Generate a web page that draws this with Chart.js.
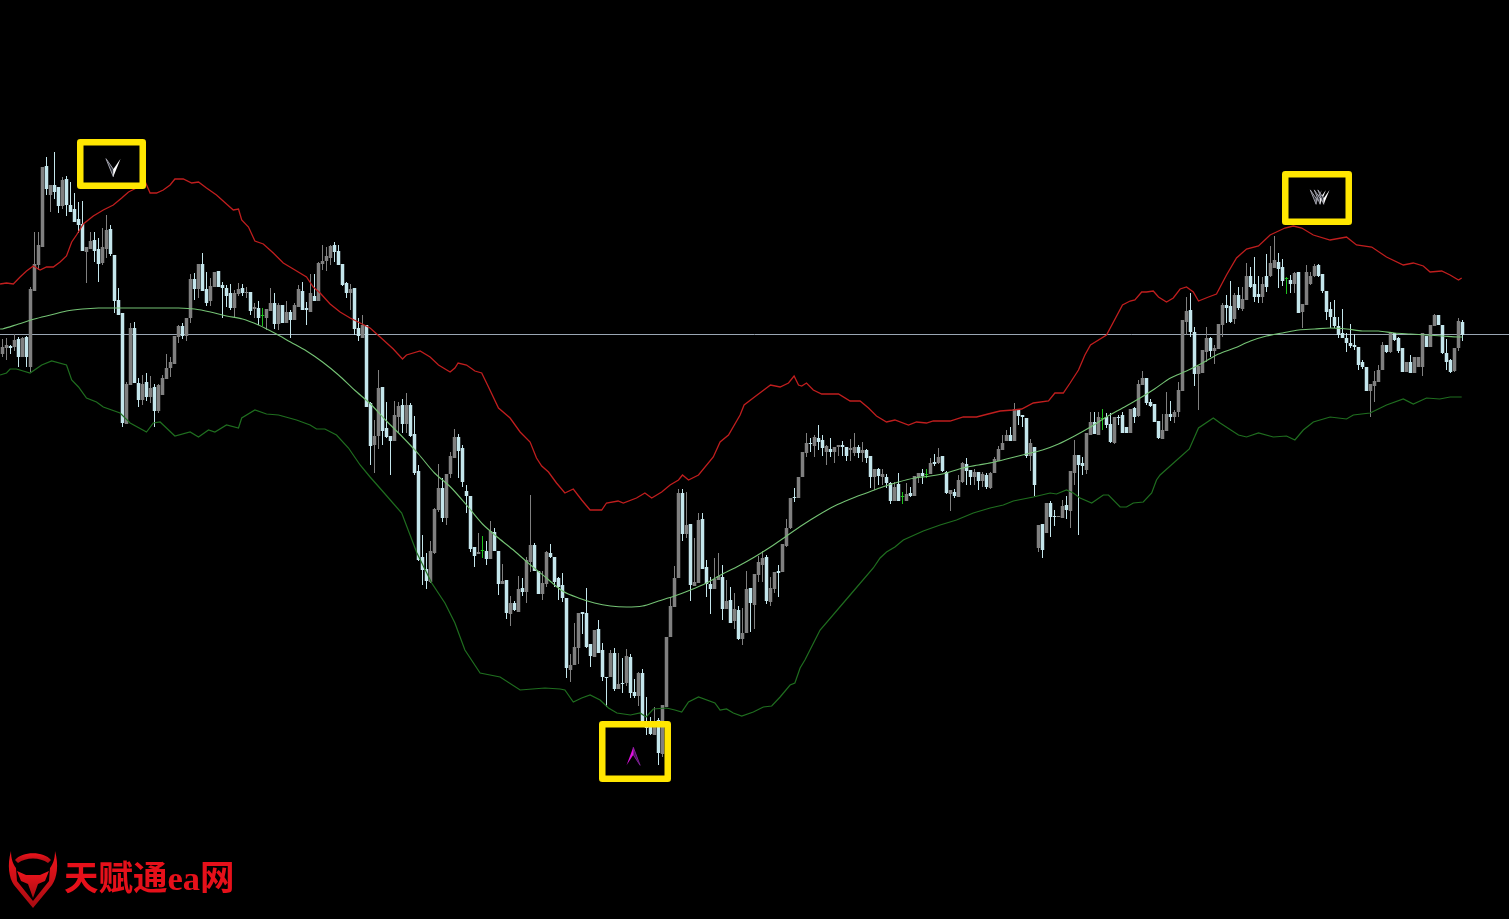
<!DOCTYPE html>
<html>
<head>
<meta charset="utf-8">
<title>天赋通ea网</title>
<script src="https://cdn.jsdelivr.net/npm/chart.js@4/dist/chart.umd.min.js"></script>
<style>
  html, body { margin: 0; padding: 0; background: #000; overflow: hidden; }
  #wrap { position: relative; width: 1509px; height: 919px; }
  #priceChart { filter: blur(0.35px); }
  #logo { position: absolute; left: 0; top: 845px; }
  #brand {
    position: absolute; left: 64px; top: 857px; color: #e6101a; white-space: nowrap;
    font: bold 34.5px "Liberation Serif", "Noto Sans CJK SC", serif; line-height: 42px;
  }
</style>
</head>
<body>
<div id="wrap">
  <canvas id="priceChart" width="1509" height="919"></canvas>
  <svg id="logo" width="60" height="70" viewBox="0 845 60 70">
    <defs>
      <linearGradient id="logoRed" x1="0" y1="0" x2="0" y2="1">
        <stop offset="0" stop-color="#f0141c"/>
        <stop offset="1" stop-color="#a80c12"/>
      </linearGradient>
    </defs>
    <path fill="url(#logoRed)" d="M11 851 C7 865 9 878 14 885 L33 908 L52 885 C57 878 59 865 55 851 C55 859 53 864 50 868 L49 881 L33 901 L17 881 L16 868 C13 864 11 859 11 851 Z"/>
    <path fill="url(#logoRed)" d="M15 860 C22 851 44 851 51 860 L48 863 C40 857 26 857 18 863 Z"/>
    <path fill="url(#logoRed)" d="M17 871 L26 875 L40 875 L49 871 L45 881 L38 884 L33 898 L28 884 L21 881 Z"/>
  </svg>
  <div id="brand">天赋通ea网</div>
</div>
<script>
// Candles, one entry per bar
const open = [
  646,652,654,653,661,643,663,633,709,735, 753,834,805,815,813,794,821,795,791,781,
  776,748,751,760,751,737,751,771,745,700, 687,576,615,672,617,600,618,603,613,589,
  605,621,632,636,663,674,664,682,721,711, 736,711,699,713,729,715,712,707,692,706,
  712,707,708,691,692,684,682,689,697,676, 695,677,688,680,693,709,692,688,704,699,
  736,739,742,755,749,736,717,707,712,672, 662,675,597,555,564,613,572,564,559,583,
  595,576,595,566,529,443,431,418,447,490, 512,482,526,542,563,552,509,504,453,446,
  449,449,441,468,449,416,420,386,397,388, 412,408,438,455,429,406,416,447,443,422,
  415,402,330,335,352,388,387,356,343,371, 350,323,323,347,311,317,317,343,308,304,
  327,279,275,265,280,246,293,363,393,422, 507,466,476,414,417,481,433,416,411,420,
  423,391,400,379,390,361,367,412,395,425, 435,443,398,411,429,428,454,472,503,502,
  523,547,557,554,562,560,548,551,548,553, 555,553,550,547,553,547,550,544,523,531,
  523,523,517,499,516,503,499,507,504,523, 527,525,526,538,537,544,528,506,508,503,
  518,536,530,523,528,519,525,512,527,539, 550,559,565,559,590,585,582,544,553,452,
  476,467,497,484,483,482,495,489,527,545, 537,530,565,578,565,581,583,576,557,583,
  585,573,567,592,584,615,622,598,596,579, 561,569,586,583,588,609,678,690,668,626,
  627,648,662,649,651,675,695,694,681,705, 691,700,724,716,706,703,724,724,732,738,
  733,721,720,716,728,688,695,716,724,735, 726,709,691,683,674,667,662,657,655,653,
  638,633,609,614,618,630,655,648,667,662, 652,628,638,627,633,633,664,653,674,685,
  675,647,640,629,652,678
];
const high = [
  661,662,655,666,663,663,664,713,768,768, 833,843,815,848,813,823,824,818,807,798,
  799,753,768,768,762,772,785,775,745,712, 687,618,677,678,622,625,627,624,616,616,
  625,646,643,664,675,677,682,726,727,736, 747,728,722,728,729,718,715,716,710,717,
  716,713,708,697,699,692,691,712,707,697, 695,699,690,697,715,718,698,726,726,738,
  755,753,755,758,755,736,718,716,712,682, 685,675,598,580,630,613,598,564,599,598,
  601,607,597,584,535,465,447,459,492,536, 522,526,548,571,566,555,515,504,453,467,
  464,459,479,472,449,436,420,404,399,424, 422,443,505,457,429,429,449,456,443,423,
  427,402,346,377,387,388,412,356,370,380, 357,323,350,352,347,342,351,346,321,328,
  331,303,283,293,282,295,363,403,434,511, 511,508,476,462,487,487,440,423,442,447,
  435,420,413,407,394,392,429,412,426,444, 449,445,423,428,435,456,481,502,512,523,
  548,567,562,565,575,565,555,562,553,555, 559,553,561,567,555,558,551,544,531,532,
  531,526,518,518,527,508,517,513,524,527, 531,531,542,546,552,544,529,510,511,525,
  538,542,530,531,528,528,527,528,543,554, 565,570,573,597,591,585,582,561,553,475,
  476,497,499,490,484,500,504,529,560,545, 543,567,588,588,588,591,587,587,583,585,
  588,573,591,593,620,629,622,601,596,579, 586,608,599,590,618,680,703,707,673,634,
  650,673,663,655,676,697,705,719,707,713, 713,737,733,743,724,723,746,754,764,747,
  741,723,725,728,728,696,735,728,736,736, 726,709,698,700,683,691,667,676,666,653,
  640,633,616,629,635,658,655,667,667,663, 652,638,645,643,643,667,664,675,686,685,
  675,661,641,652,682,680
];
const low = [
  643,640,646,649,633,643,633,628,709,730, 753,805,788,801,787,791,784,788,778,767,
  749,717,751,738,718,735,742,744,687,685, 573,576,615,617,593,595,599,597,573,587,
  605,621,623,636,657,661,659,677,700,702, 709,694,694,713,713,682,693,690,683,704,
  704,702,685,682,675,674,670,689,671,670, 677,677,662,680,693,690,675,688,699,699,
  730,729,735,738,735,714,702,690,665,659, 662,593,535,527,551,555,562,525,559,567,
  567,567,563,525,439,415,411,417,446,488, 478,475,522,542,522,513,487,448,433,446,
  442,435,441,449,405,416,381,374,389,388, 404,397,428,429,406,400,413,442,413,400,
  398,322,318,335,336,366,352,333,343,347, 319,293,323,309,311,307,314,302,302,294,
  279,265,265,265,235,243,293,363,393,422, 459,462,399,414,417,431,403,386,411,420,
  380,391,377,371,360,355,367,368,371,418, 418,396,394,407,403,428,453,471,498,502,
  523,543,548,543,550,544,535,543,537,544, 544,539,539,544,542,538,537,512,510,515,
  515,512,496,499,499,496,499,503,504,517, 516,522,526,534,536,528,506,489,502,503,
  517,515,515,515,510,513,511,511,527,539, 550,559,559,559,575,573,542,529,504,448,
  442,467,463,474,483,482,481,472,515,465, 525,526,565,566,565,570,572,557,556,575,
  567,567,567,577,583,615,595,593,578,561, 561,569,579,577,583,609,665,663,614,590,
  627,638,643,636,651,663,677,677,676,690, 689,700,712,698,697,697,708,723,732,712,
  714,706,707,707,687,672,695,715,723,723, 707,680,672,672,662,662,648,652,650,630,
  631,609,583,598,618,630,647,647,659,647, 628,628,627,627,633,624,653,653,674,675,
  646,630,627,628,649,659
];
const close = [
  653,655,652,660,643,662,643,711,736,755, 833,811,815,808,794,820,795,788,778,775,
  749,753,759,749,736,753,770,746,699,685, 577,616,672,617,600,616,603,612,589,615,
  622,632,638,664,674,664,682,721,711,736, 709,697,714,728,713,712,704,692,707,711,
  707,708,689,693,682,684,691,697,676,695, 677,688,680,695,711,690,690,707,699,737,
  739,744,754,748,735,715,707,711,671,664, 675,593,554,564,612,569,563,559,585,594,
  576,595,564,527,440,430,419,449,491,512, 482,526,544,563,549,518,504,451,444,448,
  449,441,469,449,416,419,387,397,390,411, 408,440,455,429,406,417,448,443,418,413,
  402,332,335,353,387,386,353,344,370,347, 323,322,347,311,316,316,344,307,304,327,
  279,272,266,274,247,295,363,394,422,507, 466,475,415,418,480,431,416,411,421,424,
  391,399,377,391,361,367,411,397,426,438, 442,399,412,428,427,456,472,502,502,523,
  548,557,556,563,558,552,554,548,553,555, 553,544,552,553,547,550,542,523,531,524,
  526,517,499,513,499,503,506,504,524,527, 524,525,537,536,543,529,507,510,504,520,
  537,529,523,528,519,526,513,527,541,551, 557,565,559,591,584,583,544,557,515,475,
  450,497,483,483,484,494,490,529,545,535, 534,567,578,566,583,581,575,558,583,582,
  567,567,591,583,616,622,597,594,578,562, 570,586,583,588,610,680,689,668,626,634,
  650,662,649,652,676,695,692,678,705,692, 701,724,713,703,703,716,713,737,740,731,
  719,721,716,727,687,696,728,724,734,724, 709,688,683,674,665,662,657,654,653,635,
  633,609,616,619,630,655,648,667,660,649, 628,638,627,643,643,667,653,675,685,675,
  647,638,628,652,679,665
];

// Upper band, read at its turning points
const upperBars = [
  -0.6,1,2.7,4.4,6,7.7,9.4,11,12.7,14.4,16,17.3,18.5,20.2,22.7,25.2,27.7,29.8,31.5,33.5,35.8,36.9,38.5,40.2,41.9,
  43.1,45.2,47.3,49,51,53.5,56,57.7,59,59.8,61.5,63.1,65.2,67.7,70.2,72.7,76,77.7,79.4,81.9,84.4,86.9,89.4,91.9,94.4,
  97.7,100,101,104.4,106.9,109,111.9,113.1,113.9,116,118.1,119.8,121.5,124,126.9,129.4,131.9,133.5,134.8,136.5,138.5,140.6,142.7,144.8,146.9,
  149.8,151,153.9,155.2,158.5,160.6,162.3,164.8,166.9,169,170,171.5,174,177.7,179.4,181.5,184.4,185.4,188,192,
  194.4,196.5,197.9,199,199.8,201,202.7,204.8,209,211.9,214.4,216.5,218.5,221,223.1,226.5,228.5,231,232.7,236.9,240.2,243.5,246.4,249.4,252.7,
  254.8,257.7,261.5,263.1,265.2,266.9,269,270.6,272,276,280,281.9,283.1,284.8,286,287.7,289,291,292.7,294.4,296,297.7,299,301.5,303.5,
  306,308.5,311,314,316.9,320.6,322.7,324.8,327.7,331.9,336,338.5,342.3,346,350.2,352.7,355.2,356.9,359.8,361.9,364,364.8
];
const upperBand = [
  716,717,716,723,729,734,730,733,733,738,744,758,765,776,784,790,795,802,808,812,817,807,807,810,815,
  821,821,817,818,812,805,796,790,791,780,773,759,756,747,737,731,723,713,707,696,688,682,677,672,663,
  651,641,645,649,643,635,628,632,637,635,629,627,613,592,582,568,558,542,534,528,517,507,511,500,490,
  490,497,499,497,502,507,502,508,515,520,525,520,525,543,558,565,585,595,603,615,
  613,617,624,615,614,617,610,606,606,599,599,592,584,578,580,575,578,577,579,579,583,583,586,589,590,
  591,597,599,607,607,617,630,645,655,665,695,699,700,708,708,709,703,698,702,711,713,708,699,703,706,
  725,742,751,754,765,772,774,772,765,760,763,755,753,743,735,737,734,728,729,725,720,722
];

// Middle band, read every fourth bar
const middleBars = [
  -0.6,0,4,8,12,16,20,24,28,32,36,40,44,48,52,56,60,64,68,72,76,80,84,88,
  92,96,100,104,108,112,116,120,124,128,132,136,140,144,148,152,156,160,164,168,172,176,180,184,
  188,192,196,200,204,208,212,216,220,224,228,232,236,240,244,248,252,256,260,264,268,
  272,276,280,284,288,292,296,300,304,308,312,316,320,324,328,332,336,340,344,348,352,356,360,364,365
];
const middleBand = [
  671,671,676,681,685,689,691,692,692,692,692,692,692,691,688,684,681,675,667,658,649,638,625,610,
  596,579,563,546,527,513,495,476,462,449,435,422,409,402,397,394,393,394,399,404,410,417,426,434,
  443,453,464,475,485,494,501,507,513,518,522,524,527,532,535,538,542,546,550,556,564,
  573,583,592,601,611,622,629,637,646,652,659,664,667,670,671,672,671,669,669,667,666,665,664,663,663
];

// Lower band, read at its turning points
const lowerBars = [
  -0.6,1,1.9,3.5,6.9,9.8,12.3,16,17.3,19,21,23.5,25.2,29.4,31.9,36,37.7,39.4,43.1,46.9,49,51.5,53.1,56,59,
  59.8,63.1,66,69,73.5,76.9,78.5,80.6,83.5,86.5,89.4,91.9,95.2,99.8,103.6,107.3,110.6,113.1,115.6,119.4,124.4,129.4,135.6,
  139.4,140.6,142.7,144.8,146.9,149.4,151.5,153.6,157,159.4,160.9,162.7,166,168.1,169.8,171.5,174,178.1,179.4,181,182.7,184.8,187.7,190.2,192.3,194.4,196.9,198.1,199.4,
  200.6,204.4,211.9,217.7,219.4,221,223.1,225.2,230.2,234.4,238.5,242.7,246.9,250.2,252.7,257.7,261.9,263.5,266,267.7,269.4,272.3,275.2,276.5,279.4,281,282.7,285.2,287.3,288.5,289.4,
  296.7,299,302.7,304.4,309,311,314,317.7,321,323.1,325.2,327.7,331.9,336,337.7,341.9,346,350.2,352.7,356,359.3,361.9,364.8
];
const lowerBand = [
  625,627,631,631,627,635,639,635,620,613,602,598,593,587,577,568,577,578,564,568,563,570,568,575,572,
  582,590,586,585,580,575,571,571,565,552,535,523,508,487,447,417,397,377,350,327,323,310,312,
  311,310,298,302,305,300,292,287,285,287,283,291,292,290,288,298,303,297,290,291,287,284,288,293,294,303,315,317,332,
  340,370,405,432,442,448,453,460,469,475,480,487,492,495,499,503,507,506,510,507,502,497,505,505,493,493,497,498,507,520,525,
  551,572,582,577,565,563,567,563,564,560,570,578,583,581,585,587,595,601,596,602,601,603,603
];

const bidPrice = 665.5;

// The three highlighted signals, in bar and price units
const signalBoxes = [
  { bars: [19.44, 35.06], prices: [857.75, 814.25] },
  { bars: [320.69, 336.56], prices: [825.75, 778.25] },
  { bars: [149.94, 166.31], prices: [275.75, 221.25] }
];
const signalArrows = [
  { bar: 27.7, price: 823.3, down: true, fill: '#ffffff', shade: '#2c3038', edge: '#a0a0aa', scale: 1 },
  { bar: 328.4, price: 795.7, down: true, fill: '#9a9aa4', shade: '#22262c', edge: '#a0a0aa', scale: 0.8 },
  { bar: 329.4, price: 795.7, down: true, fill: '#ffffff', shade: '#2c3038', edge: '#a0a0aa', scale: 0.8 },
  { bar: 330.3, price: 795.7, down: true, fill: '#ffffff', shade: '#2c3038', edge: '#a0a0aa', scale: 0.8 },
  { bar: 157.7, price: 252.7, down: false, fill: '#e010e0', shade: '#4a0f5c', edge: '#7a2090', scale: 1 }
];

const barNumbers = open.map((_, i) => i);
const upColor = '#808080';
const downColor = '#c4e6ec';
const dojiColor = '#1fc01f';

function candleColor(i) {
  if (close[i] === open[i]) return dojiColor;
  return close[i] > open[i] ? upColor : downColor;
}

function bandPoints(bars, values) {
  return bars.map((bar, i) => ({ x: bar, y: values[i] }));
}

// Draws the yellow boxes and arrow glyphs on top of the candles
const signalPlugin = {
  id: 'signals',
  afterDatasetsDraw(chart) {
    const ctx = chart.ctx;
    const xScale = chart.scales.x;
    const yScale = chart.scales.y;
    ctx.save();

    signalBoxes.forEach((box) => {
      const left = xScale.getPixelForValue(box.bars[0]);
      const right = xScale.getPixelForValue(box.bars[1]);
      const top = yScale.getPixelForValue(box.prices[0]);
      const bottom = yScale.getPixelForValue(box.prices[1]);
      ctx.strokeStyle = '#ffe600';
      ctx.lineWidth = 6.5;
      ctx.lineJoin = 'round';
      ctx.beginPath();
      ctx.rect(left, top, right - left, bottom - top);
      ctx.stroke();
    });

    signalArrows.forEach((arrow) => {
      const x = xScale.getPixelForValue(arrow.bar);
      const y = yScale.getPixelForValue(arrow.price);
      const dir = arrow.down ? -1 : 1;
      const s = arrow.scale;
      const wingY = y + dir * 18 * s;
      const notchY = y + dir * 7.5 * s;
      const brightSide = arrow.down ? 7.3 : -6.8;
      const darkSide = arrow.down ? -7.3 : 6.8;

      // dark half with an outline, bright half solid
      ctx.lineWidth = 1;
      ctx.strokeStyle = arrow.edge;
      ctx.fillStyle = arrow.shade;
      ctx.beginPath();
      ctx.moveTo(x + darkSide * s, wingY);
      ctx.lineTo(x, y);
      ctx.lineTo(x, notchY);
      ctx.closePath();
      ctx.fill();
      ctx.stroke();

      ctx.fillStyle = arrow.fill;
      ctx.beginPath();
      ctx.moveTo(x + brightSide * s, wingY);
      ctx.lineTo(x, y);
      ctx.lineTo(x, notchY);
      ctx.closePath();
      ctx.fill();
    });

    ctx.restore();
  }
};

new Chart(document.getElementById('priceChart'), {
  type: 'bar',
  data: {
    datasets: [
      {
        type: 'line', label: 'Upper band', data: bandPoints(upperBars, upperBand),
        borderColor: '#c01e1e', borderWidth: 1.3, pointRadius: 0, tension: 0, order: 1
      },
      {
        type: 'line', label: 'Middle band', data: bandPoints(middleBars, middleBand),
        borderColor: '#74c274', borderWidth: 1.1, pointRadius: 0, tension: 0.3, order: 1
      },
      {
        type: 'line', label: 'Lower band', data: bandPoints(lowerBars, lowerBand),
        borderColor: '#1f6e1f', borderWidth: 1.2, pointRadius: 0, tension: 0, order: 1
      },
      {
        label: 'Body',
        data: barNumbers.map((i) => ({ x: i, y: [open[i], close[i]] })),
        backgroundColor: barNumbers.map(candleColor),
        barThickness: 3.5, minBarLength: 1, grouped: false, inflateAmount: 0, borderWidth: 0, order: 2
      },
      {
        label: 'Wick',
        data: barNumbers.map((i) => ({ x: i, y: [low[i], high[i]] })),
        backgroundColor: barNumbers.map(candleColor),
        barThickness: 1, grouped: false, inflateAmount: 0, borderWidth: 0, order: 3
      },
      {
        type: 'line', label: 'Bid', data: [{ x: -0.625, y: bidPrice }, { x: 376.625, y: bidPrice }],
        borderColor: '#9aa6b3', borderWidth: 1, pointRadius: 0, tension: 0, order: 4
      }
    ]
  },
  options: {
    responsive: false,
    animation: false,
    events: [],
    layout: { padding: 0 },
    plugins: { legend: { display: false }, tooltip: { enabled: false } },
    scales: {
      x: { type: 'linear', display: false, offset: false, min: -0.625, max: 376.625 },
      y: { type: 'linear', display: false, min: 81, max: 1000 }
    }
  },
  plugins: [signalPlugin]
});
</script>
</body>
</html>
